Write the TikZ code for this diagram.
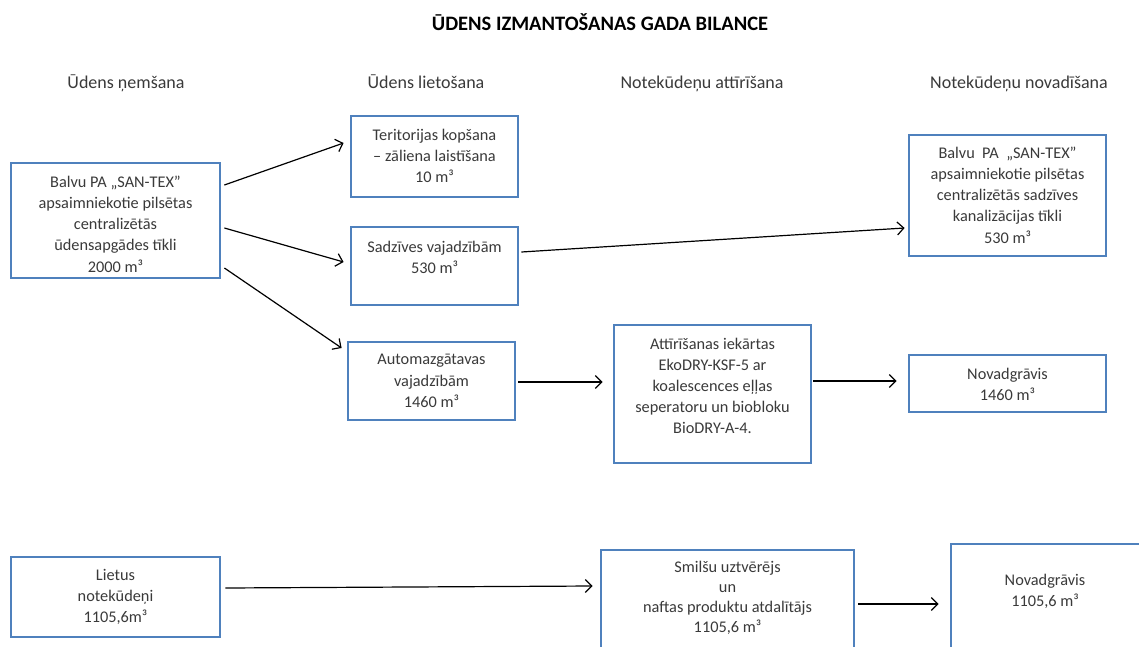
\documentclass[tikz,border=0pt]{standalone}
\usepackage{fontspec}
\setmainfont{Carlito}
\usetikzlibrary{arrows.meta,calc}
\definecolor{boxblue}{HTML}{4F81BD}
\definecolor{txt}{HTML}{3A3A3A}
\tikzset{
  box/.style={draw=boxblue,line width=2.8pt,fill=white,inner sep=0pt,anchor=center},
  lbl/.style={text=txt,align=center,inner sep=0pt,font=\fontsize{16.3}{21.2}\selectfont},
  head/.style={text=txt,inner sep=0pt,anchor=base,font=\fontsize{18}{20}\selectfont},
  conn/.style={line width=1.2pt,-{Straight Barb[length=6.5pt,width=13pt]}}
}
\begin{document}
\begin{tikzpicture}[x=1pt,y=-1pt]
\useasboundingbox (0,0) rectangle (1139,647);
\clip (0,0) rectangle (1139,647);
\fill[white] (0,0) rectangle (1139,647);
% title and headers
\node[inner sep=0pt,font=\fontsize{20.5}{24}\selectfont\bfseries] (title) at (600,22) {ŪDENS IZMANTOŠANAS GADA BILANCE};
\node[head] (h1) at (126,89) {Ūdens ņemšana};
\node[head] (h2) at (426,89) {Ūdens lietošana};
\node[head] (h3) at (702,89) {Notekūdeņu attīrīšana};
\node[head] (h4) at (1019,89) {Notekūdeņu novadīšana};
% boxes
\node[box,minimum width=209pt,minimum height=115pt] (A) at (115.5,220.5) {};
\node[box,minimum width=167pt,minimum height=81pt] (T) at (434.5,156.5) {};
\node[box,minimum width=167pt,minimum height=78pt] (S) at (434.5,266) {};
\node[box,minimum width=167pt,minimum height=78pt] (Au) at (431.5,381) {};
\node[box,minimum width=197pt,minimum height=138pt] (E) at (712.5,394) {};
\node[box,minimum width=197pt,minimum height=121pt] (K) at (1007.5,195.5) {};
\node[box,minimum width=197pt,minimum height=57pt] (N1) at (1007.5,383.5) {};
\node[box,minimum width=209pt,minimum height=80pt] (L) at (115.5,597) {};
\node[box,minimum width=253pt,minimum height=130pt] (SM) at (727.5,615) {};
\node[box,minimum width=209pt,minimum height=136pt] (N2) at (1055.5,612) {};
% texts
\node[lbl] (tA) at (115.5,224) {Balvu PA „SAN-TEX”\\apsaimniekotie pilsētas\\centralizētās\\ūdensapgādes tīkli\\2000 m³};
\node[lbl] (tT) at (434.5,156) {Teritorijas kopšana\\– zāliena laistīšana\\10 m³};
\node[lbl] (tS) at (434.5,257) {Sadzīves vajadzībām\\530 m³};
\node[lbl] (tAu) at (431.5,381) {Automazgātavas\\vajadzībām\\1460 m³};
\node[lbl] (tE) at (712.5,386) {Attīrīšanas iekārtas\\EkoDRY-KSF-5 ar\\koalescences eļļas\\seperatoru un biobloku\\BioDRY-A-4.};
\node[lbl] (tK) at (1007.5,195) {Balvu~~PA~~„SAN-TEX”\\apsaimniekotie pilsētas\\centralizētās sadzīves\\kanalizācijas tīkli\\530 m³};
\node[lbl] (tN1) at (1007.5,384) {Novadgrāvis\\1460 m³};
\node[lbl] (tL) at (115.5,597) {Lietus\\notekūdeņi\\1105,6m³};
\node[lbl,font=\fontsize{16.3}{20}\selectfont] (tSM) at (727.5,598) {Smilšu uztvērējs\\un\\naftas produktu atdalītājs\\1105,6 m³};
\node[lbl] (tN2) at (1045,591) {Novadgrāvis\\1105,6 m³};
% connectors
\draw[conn] ($(A.east|-0,185)+(3,0)$) -- ($(T.west|-0,143)+(-6,0)$);
\draw[conn] ($(A.east|-0,228)+(3,0)$) -- ($(S.west|-0,262)+(-6,0)$);
\draw[conn] ($(A.east|-0,268)+(3,0)$) -- ($(Au.west|-0,348)+(-5,0)$);
\draw[conn] ($(S.east|-0,252)+(2,0)$) -- ($(K.west|-0,228)+(-3,0)$);
\draw[conn] ($(Au.east|-0,382)+(2,0)$) -- ($(E.west|-0,382)+(-10,0)$);
\draw[conn] ($(E.east|-0,381)+(1,0)$) -- ($(N1.west|-0,381)+(-11,0)$);
\draw[conn] ($(L.east|-0,588)+(4,0)$) -- ($(SM.west|-0,586)+(-7,0)$);
\draw[conn] ($(SM.east|-0,604)+(3,0)$) -- ($(N2.west|-0,604)+(-11,0)$);
\end{tikzpicture}
\end{document}
